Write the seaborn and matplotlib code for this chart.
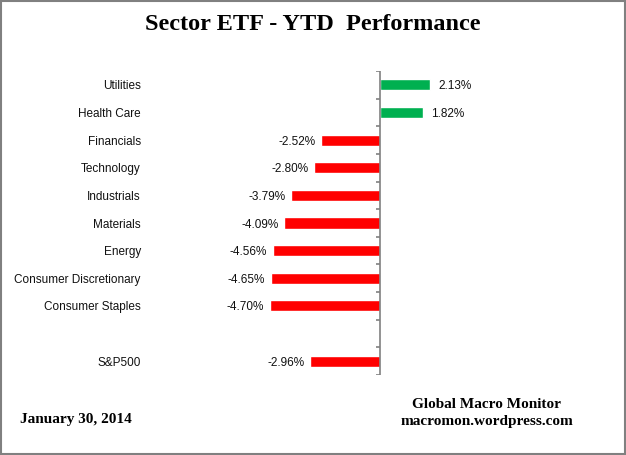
import matplotlib
matplotlib.use("Agg")
import matplotlib.pyplot as plt
import seaborn as sns
import pandas as pd
from matplotlib.patches import Rectangle

categories = ["Utilities", "Health Care", "Financials", "Technology", "Industrials",
              "Materials", "Energy", "Consumer Discretionary", "Consumer Staples", "S&P500"]
values = [2.13, 1.82, -2.52, -2.80, -3.79, -4.09, -4.56, -4.65, -4.70, -2.96]
order = categories[:9] + [" "] + ["S&P500"]

df = pd.DataFrame({"cat": categories, "val": values})
df["sign"] = ["pos" if v >= 0 else "neg" for v in values]

sns.set_theme(style="white")
plt.rcParams["font.family"] = ["Liberation Sans", "DejaVu Sans"]

fig = plt.figure(figsize=(6.26, 4.55), dpi=100)
W, H = 626, 455
ax = fig.add_axes([145 / W, 1 - 375 / H, (615 - 145) / W, (375 - 71) / H])

sns.barplot(data=df, y="cat", x="val", hue="sign", order=order,
            palette={"pos": "#00B050", "neg": "#FF0000"}, width=0.4,
            legend=False, dodge=False, ax=ax, saturation=1)

ax.set_xlim(-10, 10)
ax.set_ylim(len(order) - 0.5, -0.5)
for s in ax.spines.values():
    s.set_visible(False)
ax.set_xticks([])
ax.set_xlabel("")
ax.set_ylabel("")
ax.tick_params(axis="y", length=0, pad=3, labelsize=8.5, labelcolor="#111111")

ax.axvline(0, color="#808080", lw=1.2)
bounds = [i - 0.5 for i in range(len(order) + 1)]
ax.hlines(bounds, -0.16, 0, color="#808080", lw=1.2)

for cat, v in zip(categories, values):
    y = order.index(cat)
    off = 6 if v >= 0 else -4
    ax.annotate(f"{v:.2f}%", (v, y), xytext=(off, 0), textcoords="offset points",
                ha="left" if v >= 0 else "right", va="center_baseline",
                fontsize=8.5, color="#111111")

serif = ["Liberation Serif", "DejaVu Serif"]
fig.text(0.5, 1 - 24 / H, "Sector ETF - YTD  Performance", ha="center", va="center",
         fontsize=17.5, fontweight="bold", family=serif, color="black")
fig.text(20 / W, 1 - 420 / H, "January 30, 2014", ha="left", va="center",
         fontsize=11, fontweight="bold", family=serif, color="black")
fig.text(487 / W, 1 - 405 / H, "Global Macro Monitor", ha="center", va="center",
         fontsize=11, fontweight="bold", family=serif, color="black")
fig.text(487 / W, 1 - 422 / H, "macromon.wordpress.com", ha="center", va="center",
         fontsize=11, fontweight="bold", family=serif, color="black")

fig.patches.append(Rectangle((0.001, 0.002), 0.997, 0.996, transform=fig.transFigure,
                             fill=False, edgecolor="#808080", lw=1.5))

fig.savefig("out.png", dpi=100)
